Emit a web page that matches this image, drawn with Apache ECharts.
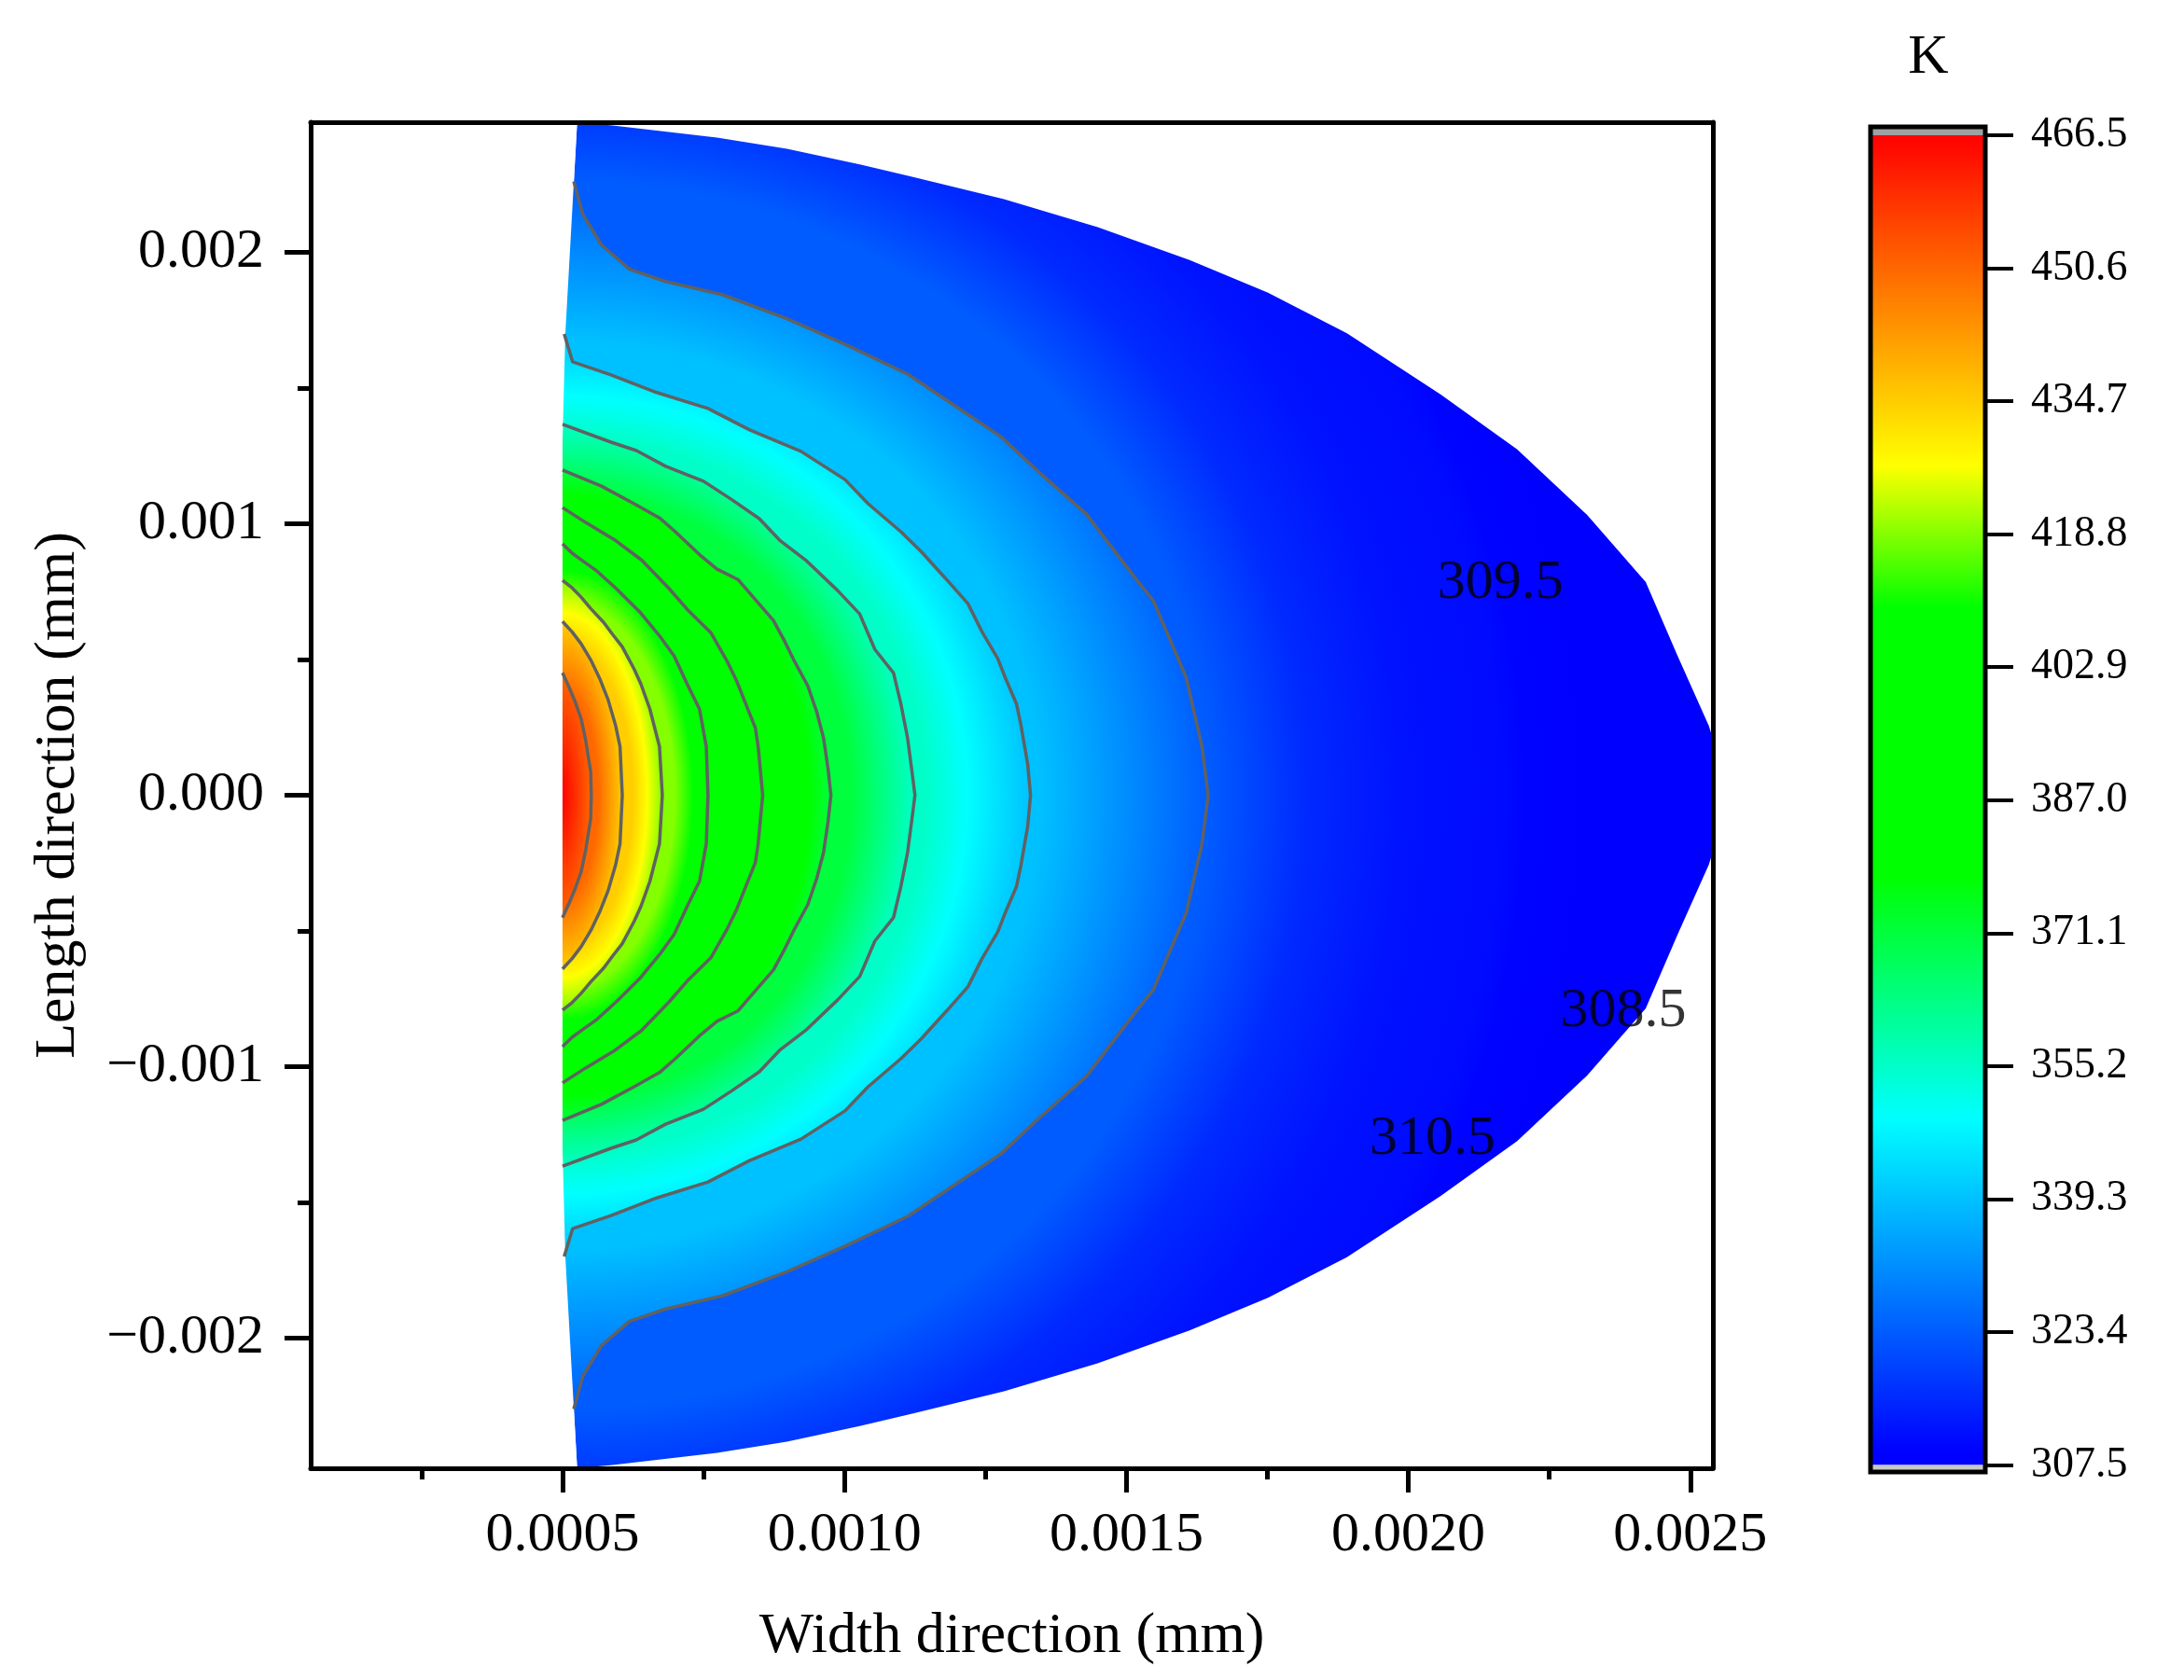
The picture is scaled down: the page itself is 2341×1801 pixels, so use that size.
<!DOCTYPE html>
<html>
<head>
<meta charset="utf-8">
<title>Temperature contour</title>
<script src="https://cdn.jsdelivr.net/npm/echarts@6/dist/echarts.min.js"></script>
<style>
  html, body { margin: 0; padding: 0; background: #fff; }
  #main { width: 2341px; height: 1801px; }
</style>
</head>
<body>
<div id="main"></div>
<script>
// tick values
var xMajorTicks = [0.0005, 0.0010, 0.0015, 0.0020, 0.0025];
var xMinorTicks = [0.00025, 0.00075, 0.00125, 0.00175, 0.00225];
var yMajorTicks = [-0.002, -0.001, 0, 0.001, 0.002];
var yMinorTicks = [-0.0015, -0.0005, 0.0005, 0.0015];
var colorbarTicks = [307.5, 323.4, 339.3, 355.2, 371.1, 387.0, 402.9, 418.8, 434.7, 450.6, 466.5];

// colour map (K -> colour)
var cmapValues = [307.5, 309.0, 349.0, 378.0, 410.0, 427.0, 466.5];
var cmapColors = ['#0000ff', '#0000ff', '#00ffff', '#00ff00', '#00ff00', '#ffff00', '#ff0000'];

// contour levels, outermost first
var contourLevels = [323.4, 339.3, 355.2, 371.1, 387.0, 402.9, 418.8, 434.7, 450.6];

// upper halves of the contour lines [width, length]; the field is symmetric about length = 0
var contour3234 = [[0.000520, 0.002262], [0.000536, 0.002141], [0.000569, 0.002028], [0.000619, 0.001938],
  [0.000683, 0.001893], [0.000783, 0.001845], [0.000898, 0.001756], [0.001004, 0.001659], [0.001112, 0.001552],
  [0.001178, 0.001460], [0.001277, 0.001322], [0.001350, 0.001181], [0.001429, 0.001036], [0.001515, 0.000802],
  [0.001548, 0.000716], [0.001606, 0.000434], [0.001634, 0.000179], [0.001645, 0]];
var contour3393 = [[0.000503, 0.001700], [0.000518, 0.001597], [0.000586, 0.001549], [0.000667, 0.001484],
  [0.000758, 0.001425], [0.000832, 0.001346], [0.000923, 0.001267], [0.001001, 0.001163], [0.001042, 0.001074],
  [0.001100, 0.000971], [0.001136, 0.000898], [0.001181, 0.000795], [0.001219, 0.000706], [0.001244, 0.000602],
  [0.001272, 0.000503], [0.001285, 0.000434], [0.001305, 0.000337], [0.001313, 0.000258], [0.001325, 0.000114],
  [0.001330, 0]];
var contour3552 = [[0.000500, 0.001367], [0.000586, 0.001301], [0.000631, 0.001270], [0.000683, 0.001212],
  [0.000750, 0.001157], [0.000799, 0.001091], [0.000849, 0.001019], [0.000885, 0.000940], [0.000931, 0.000867],
  [0.000988, 0.000754], [0.001027, 0.000668], [0.001054, 0.000537], [0.001087, 0.000451], [0.001100, 0.000337],
  [0.001112, 0.000210], [0.001120, 0.000083], [0.001125, 0]];
var contour3711 = [[0.000500, 0.001198], [0.000569, 0.001139], [0.000627, 0.001074], [0.000672, 0.001022],
  [0.000700, 0.000971], [0.000746, 0.000881], [0.000774, 0.000833], [0.000811, 0.000795], [0.000841, 0.000723],
  [0.000874, 0.000644], [0.000893, 0.000571], [0.000910, 0.000499], [0.000935, 0.000403], [0.000951, 0.000306],
  [0.000963, 0.000210], [0.000971, 0.000096], [0.000976, 0]];
var contour3870 = [[0.000500, 0.001060], [0.000541, 0.001005], [0.000591, 0.000943], [0.000640, 0.000867],
  [0.000688, 0.000764], [0.000721, 0.000685], [0.000763, 0.000599], [0.000793, 0.000489], [0.000809, 0.000420],
  [0.000842, 0.000248], [0.000847, 0.000179], [0.000855, 0]];
var contour4029 = [[0.000500, 0.000926], [0.000517, 0.000892], [0.000540, 0.000857], [0.000561, 0.000826],
  [0.000594, 0.000764], [0.000639, 0.000671], [0.000674, 0.000582], [0.000698, 0.000513], [0.000721, 0.000410],
  [0.000743, 0.000317], [0.000755, 0.000179], [0.000758, 0]];
var contour4188 = [[0.000500, 0.000792], [0.000517, 0.000764], [0.000533, 0.000730], [0.000550, 0.000688],
  [0.000573, 0.000637], [0.000589, 0.000592], [0.000606, 0.000547], [0.000627, 0.000465], [0.000639, 0.000410],
  [0.000655, 0.000317], [0.000672, 0.000179], [0.000677, 0]];
var contour4347 = [[0.000500, 0.000640], [0.000517, 0.000602], [0.000533, 0.000558], [0.000550, 0.000499],
  [0.000566, 0.000430], [0.000581, 0.000351], [0.000594, 0.000258], [0.000602, 0.000179], [0.000606, 0]];
var contour4506 = [[0.000500, 0.000451], [0.000512, 0.000396], [0.000523, 0.000341], [0.000533, 0.000282],
  [0.000541, 0.000203], [0.000550, 0.000086], [0.000551, 0]];
var contours = [contour3234, contour3393, contour3552, contour3711, contour3870,
  contour4029, contour4188, contour4347, contour4506];

// upper half of the model outline: outer curve from the top-left corner to the tip, and the left edge
var domainOuter = [[0.000526, 0.00248], [0.000589, 0.002468], [0.000774, 0.002423], [0.000898, 0.002382],
  [0.001029, 0.002324], [0.001120, 0.002279], [0.001283, 0.002196], [0.001449, 0.002093], [0.001612, 0.001972],
  [0.001751, 0.001852], [0.001891, 0.001702], [0.002057, 0.001477], [0.002193, 0.001274], [0.002317, 0.001033],
  [0.002421, 0.000785], [0.002477, 0.000516], [0.002533, 0.000255], [0.002570, 0]];
var domainLeftEdge = [[0.000526, 0.00248], [0.000505, 0.0017], [0.0005, 0.0013], [0.0005, 0]];

// temperature along length = 0 outside the 323.4 K line
var outerProfileX = [0.001645, 0.00182, 0.00199, 0.00217, 0.00221, 0.00242];
var outerProfileT = [323.4, 315.5, 311.8, 310.5, 309.5, 308.5];
var peakTemp = 466.5;
var heatCentre = [0.0005, 0];

// stray contour labels
var contourLabelText = ['309.5', '308.5', '310.5'];
var contourLabelX = [0.002163, 0.002381, 0.002043];
var contourLabelY = [0.000782, -0.000796, -0.001267];

var X_MIN = 0.0000534, X_MAX = 0.00254, Y_MIN = -0.00248, Y_MAX = 0.00248;
var serif = '"Liberation Serif", "Times New Roman", serif';

function mirror(pts) {
  return pts.map(function (p) { return [p[0], -p[1]]; });
}
function fullLine(upper) {
  return upper.concat(mirror(upper).reverse().slice(1));
}

function hexToRgb(h) {
  return [parseInt(h.substr(1, 2), 16), parseInt(h.substr(3, 2), 16), parseInt(h.substr(5, 2), 16)];
}
function colorAt(t) {
  if (t <= cmapValues[0]) return cmapColors[0];
  for (var i = 1; i < cmapValues.length; i++) {
    if (t <= cmapValues[i]) {
      var f = (t - cmapValues[i - 1]) / (cmapValues[i] - cmapValues[i - 1]);
      var a = hexToRgb(cmapColors[i - 1]), b = hexToRgb(cmapColors[i]);
      return 'rgb(' + [0, 1, 2].map(function (k) { return Math.round(a[k] + (b[k] - a[k]) * f); }).join(',') + ')';
    }
  }
  return cmapColors[cmapColors.length - 1];
}

// pairs of [offset, temperature] -> gradient colour stops, with the colour map breakpoints in between
function gradientStops(pairs) {
  var stops = [];
  for (var i = 0; i < pairs.length; i++) {
    var o = pairs[i][0], t = pairs[i][1];
    if (i > 0) {
      var o0 = pairs[i - 1][0], t0 = pairs[i - 1][1];
      cmapValues.forEach(function (v) {
        if ((v - t0) * (v - t) < 0) {
          stops.push({ offset: o0 + (o - o0) * (v - t0) / (t - t0), color: colorAt(v) });
        }
      });
    }
    stops.push({ offset: o, color: colorAt(t) });
  }
  stops.forEach(function (s) { s.offset = Math.max(0, Math.min(1, s.offset)); });
  stops.sort(function (a, b) { return a.offset - b.offset; });
  return stops;
}

var domainRing = domainOuter
  .concat(mirror(domainOuter).reverse().slice(1))
  .concat(mirror(domainLeftEdge).slice(1))
  .concat(domainLeftEdge.slice().reverse().slice(1));

function contourRing(upper) {
  var top = upper[0][1];
  return fullLine(upper).concat([[X_MIN, -top], [X_MIN, top]]);
}

// shaded fill: item 0 is the whole outline, then each contour polygon from the outside in.
// each polygon gets an elliptical gradient from its own level to the next level inside it.
function renderFill(params, api) {
  var i = params.dataIndex;
  var c = api.coord(heatCentre);
  var ring, k, R, pairs;
  var l0 = contours[0];
  if (i === 0) {
    ring = domainRing;
    k = (c[1] - api.coord(l0[0])[1]) / (api.coord(l0[l0.length - 1])[0] - c[0]);
    var radii = outerProfileX.map(function (x) { return api.coord([x, 0])[0] - c[0]; });
    R = radii[radii.length - 1];
    pairs = [[0, outerProfileT[0]]].concat(radii.map(function (r, j) { return [r / R, outerProfileT[j]]; }));
  } else {
    var up = contours[i - 1];
    ring = contourRing(up);
    var a = api.coord(up[up.length - 1])[0] - c[0];
    var b = c[1] - api.coord(up[0])[1];
    k = b / a;
    R = a;
    var tIn = 0, tempIn = peakTemp;
    if (i < contours.length) {
      var inner = contours[i];
      var ai = api.coord(inner[inner.length - 1])[0] - c[0];
      var bi = c[1] - api.coord(inner[0])[1];
      tIn = (ai / a + bi / b) / 2;
      tempIn = contourLevels[i];
    }
    pairs = [[0, tempIn], [tIn, tempIn], [1, contourLevels[i - 1]]];
  }
  var pts = ring.map(function (p) {
    var q = api.coord(p);
    return [q[0] - c[0], (q[1] - c[1]) / k];
  });
  return {
    type: 'polygon',
    x: c[0], y: c[1], scaleX: 1, scaleY: k,
    shape: { points: pts },
    style: { fill: new echarts.graphic.RadialGradient(0, 0, R, gradientStops(pairs), true), stroke: null }
  };
}

// white cover left of the model outline
function renderMask(params, api) {
  var ring = [[X_MIN, Y_MAX]].concat(domainLeftEdge, mirror(domainLeftEdge).reverse(), [[X_MIN, Y_MIN]]);
  return {
    type: 'polygon',
    shape: { points: ring.map(function (p) { return api.coord(p); }) },
    style: { fill: '#ffffff', stroke: null }
  };
}

function renderColorbar(params, api) {
  var lo = colorbarTicks[0], hi = colorbarTicks[colorbarTicks.length - 1];
  var left = api.coord([0, lo])[0], right = api.coord([1, lo])[0];
  var yLo = api.coord([0, lo])[1], yHi = api.coord([0, hi])[1];
  var yBottom = api.coord([0, 306.66])[1], yTop = api.coord([0, 467.5])[1];
  var stops = cmapValues.map(function (v, j) {
    return { offset: (v - lo) / (hi - lo), color: cmapColors[j] };
  });
  return {
    type: 'group',
    children: [
      { type: 'rect', shape: { x: left, y: yHi, width: right - left, height: yLo - yHi },
        style: { fill: new echarts.graphic.LinearGradient(0, 1, 0, 0, stops), stroke: null } },
      { type: 'rect', shape: { x: left, y: yTop, width: right - left, height: yHi - yTop },
        style: { fill: '#a0a0a0', stroke: null } },
      { type: 'rect', shape: { x: left, y: yLo, width: right - left, height: yBottom - yLo },
        style: { fill: '#c8c8c8', stroke: null } },
      { type: 'rect', shape: { x: left, y: yTop, width: right - left, height: yBottom - yTop },
        style: { fill: null, stroke: '#000', lineWidth: 5 } }
    ]
  };
}

var chart = echarts.init(document.getElementById('main'));

var series = [{
  type: 'custom',
  xAxisIndex: 0, yAxisIndex: 0,
  clip: true, silent: true, z: 1,
  renderItem: renderFill,
  data: [domainOuter[domainOuter.length - 1]].concat(contours.map(function (c) { return c[c.length - 1]; }))
}, {
  type: 'custom',
  xAxisIndex: 0, yAxisIndex: 0,
  clip: true, silent: true, z: 2,
  renderItem: renderMask,
  data: [[X_MIN, 0]]
}];

contours.forEach(function (c, i) {
  series.push({
    type: 'line',
    name: String(contourLevels[i]),
    xAxisIndex: 0, yAxisIndex: 0,
    data: fullLine(c),
    symbol: 'none',
    silent: true,
    z: 3,
    lineStyle: { color: '#616161', width: 3.5 }
  });
});

series.push({
  type: 'scatter',
  xAxisIndex: 0, yAxisIndex: 0,
  symbolSize: 1,
  silent: true,
  z: 4,
  itemStyle: { color: 'rgba(0,0,0,0)' },
  data: contourLabelText.map(function (t, i) { return [contourLabelX[i], contourLabelY[i], t]; }),
  label: {
    show: true, position: 'inside',
    formatter: function (p) { return p.data[2]; },
    color: '#000', fontFamily: serif, fontSize: 60
  }
});

series.push({
  type: 'custom',
  xAxisIndex: 3, yAxisIndex: 3,
  silent: true, z: 1, clip: false,
  renderItem: renderColorbar,
  data: [[0.5, 387.0]]
});

var blackLine = { show: true, onZero: false, lineStyle: { color: '#000', width: 5 } };

chart.setOption({
  animation: false,
  backgroundColor: '#ffffff',
  grid: [
    { left: 333, top: 131, width: 1503, height: 1443 },
    { left: 2005, top: 136, width: 123, height: 1442 }
  ],
  graphic: [{
    type: 'text', x: 2067, y: 62, z: 20,
    style: { text: 'K', font: '60px ' + serif, fill: '#000', textAlign: 'center', textVerticalAlign: 'middle',
      align: 'center', verticalAlign: 'middle' }
  }],
  xAxis: [{
    gridIndex: 0, type: 'value', min: X_MIN, max: X_MAX, position: 'bottom', z: 10,
    axisLine: blackLine,
    axisTick: { show: true, inside: false, length: 26, customValues: xMajorTicks, lineStyle: { color: '#000', width: 5 } },
    axisLabel: { show: true, customValues: xMajorTicks, margin: 42, color: '#000', fontFamily: serif, fontSize: 60,
      formatter: function (v) { return v.toFixed(4); } },
    splitLine: { show: false },
    name: 'Width direction (mm)', nameLocation: 'middle', nameGap: 150,
    nameTextStyle: { color: '#000', fontFamily: serif, fontSize: 62 }
  }, {
    gridIndex: 0, type: 'value', min: X_MIN, max: X_MAX, position: 'bottom', z: 10,
    axisLine: { show: false, onZero: false },
    axisTick: { show: true, inside: false, length: 12, customValues: xMinorTicks, lineStyle: { color: '#000', width: 5 } },
    axisLabel: { show: false }, splitLine: { show: false }
  }, {
    gridIndex: 0, type: 'value', min: X_MIN, max: X_MAX, position: 'top', z: 10,
    axisLine: blackLine, axisTick: { show: false }, axisLabel: { show: false }, splitLine: { show: false }
  }, {
    gridIndex: 1, type: 'value', min: 0, max: 1, show: false
  }],
  yAxis: [{
    gridIndex: 0, type: 'value', min: Y_MIN, max: Y_MAX, position: 'left', z: 10,
    axisLine: blackLine,
    axisTick: { show: true, inside: false, length: 28, customValues: yMajorTicks, lineStyle: { color: '#000', width: 5 } },
    axisLabel: { show: true, customValues: yMajorTicks, margin: 50, color: '#000', fontFamily: serif, fontSize: 60,
      formatter: function (v) { return Math.abs(v) < 1e-12 ? '0.000' : v.toFixed(3).replace('-', '\u2212'); } },
    splitLine: { show: false },
    name: 'Length direction (mm)', nameLocation: 'middle', nameGap: 239, nameRotate: 90,
    nameTextStyle: { color: '#000', fontFamily: serif, fontSize: 62 }
  }, {
    gridIndex: 0, type: 'value', min: Y_MIN, max: Y_MAX, position: 'left', z: 10,
    axisLine: { show: false, onZero: false },
    axisTick: { show: true, inside: false, length: 14, customValues: yMinorTicks, lineStyle: { color: '#000', width: 5 } },
    axisLabel: { show: false }, splitLine: { show: false }
  }, {
    gridIndex: 0, type: 'value', min: Y_MIN, max: Y_MAX, position: 'right', z: 10,
    axisLine: blackLine, axisTick: { show: false }, axisLabel: { show: false }, splitLine: { show: false }
  }, {
    gridIndex: 1, type: 'value', min: 306.66, max: 467.5, position: 'right', z: 10,
    axisLine: { show: false, onZero: false },
    axisTick: { show: true, inside: false, length: 30, customValues: colorbarTicks, lineStyle: { color: '#000', width: 4 } },
    axisLabel: { show: true, customValues: colorbarTicks, margin: 49, color: '#000', fontFamily: serif, fontSize: 46,
      formatter: function (v) { return v.toFixed(1); } },
    splitLine: { show: false }
  }],
  series: series
});
</script>
</body>
</html>
